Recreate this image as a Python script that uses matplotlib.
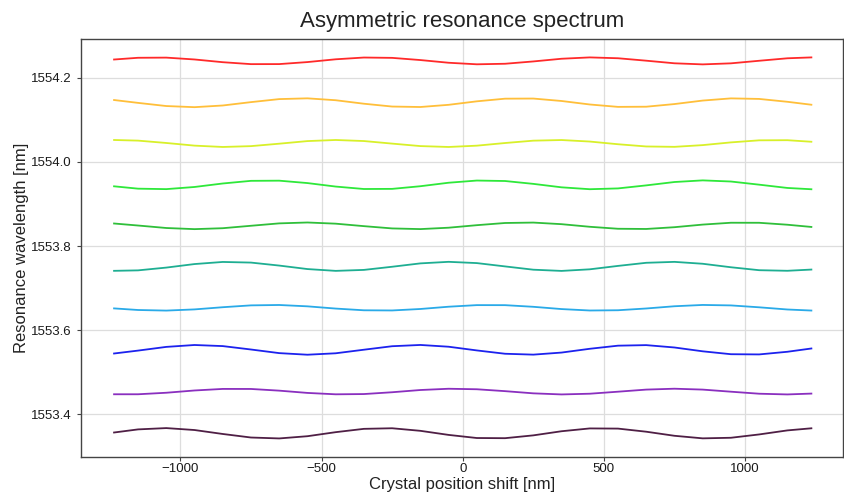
import matplotlib
matplotlib.use("Agg")
import matplotlib.pyplot as plt

plt.rcParams["font.family"] = ["Liberation Sans", "DejaVu Sans"]

# crystal position shift [nm], shared by every trace
shift = [-1235, -1150, -1050, -950, -850, -750, -650, -550, -450, -350, -250,
         -150, -50, 50, 150, 250, 350, 450, 550, 650, 750, 850, 950, 1050,
         1150, 1235]

# resonance wavelength [nm], one list per trace (top to bottom)
res_1 = [1554.2433, 1554.2474, 1554.2478, 1554.2434, 1554.2369, 1554.2323,
         1554.2324, 1554.2372, 1554.2438, 1554.2480, 1554.2472, 1554.2420,
         1554.2356, 1554.2319, 1554.2332, 1554.2387, 1554.2451, 1554.2483,
         1554.2463, 1554.2405, 1554.2343, 1554.2317, 1554.2342, 1554.2403,
         1554.2462, 1554.2483]
res_2 = [1554.1470, 1554.1402, 1554.1327, 1554.1300, 1554.1340, 1554.1420,
         1554.1492, 1554.1510, 1554.1465, 1554.1382, 1554.1315, 1554.1304,
         1554.1356, 1554.1439, 1554.1502, 1554.1505, 1554.1447, 1554.1364,
         1554.1307, 1554.1311, 1554.1374, 1554.1457, 1554.1509, 1554.1496,
         1554.1428, 1554.1358]
res_3 = [1554.0520, 1554.0505, 1554.0449, 1554.0386, 1554.0354, 1554.0374,
         1554.0432, 1554.0494, 1554.0520, 1554.0495, 1554.0434, 1554.0375,
         1554.0354, 1554.0385, 1554.0448, 1554.0504, 1554.0519, 1554.0483,
         1554.0419, 1554.0366, 1554.0357, 1554.0398, 1554.0463, 1554.0512,
         1554.0515, 1554.0478]
res_4 = [1553.9419, 1553.9363, 1553.9352, 1553.9403, 1553.9486, 1553.9549,
         1553.9553, 1553.9496, 1553.9413, 1553.9355, 1553.9358, 1553.9421,
         1553.9504, 1553.9556, 1553.9545, 1553.9477, 1553.9395, 1553.9350,
         1553.9369, 1553.9441, 1553.9521, 1553.9560, 1553.9533, 1553.9458,
         1553.9380, 1553.9349]
res_5 = [1553.8535, 1553.8487, 1553.8428, 1553.8401, 1553.8423, 1553.8481,
         1553.8538, 1553.8559, 1553.8531, 1553.8472, 1553.8418, 1553.8402,
         1553.8435, 1553.8495, 1553.8547, 1553.8557, 1553.8519, 1553.8457,
         1553.8410, 1553.8405, 1553.8447, 1553.8509, 1553.8553, 1553.8552,
         1553.8506, 1553.8453]
res_6 = [1553.7410, 1553.7421, 1553.7487, 1553.7571, 1553.7621, 1553.7606,
         1553.7535, 1553.7452, 1553.7409, 1553.7432, 1553.7507, 1553.7587,
         1553.7624, 1553.7594, 1553.7515, 1553.7437, 1553.7408, 1553.7446,
         1553.7527, 1553.7601, 1553.7623, 1553.7578, 1553.7495, 1553.7425,
         1553.7411, 1553.7440]
res_7 = [1553.6517, 1553.6479, 1553.6465, 1553.6493, 1553.6545, 1553.6589,
         1553.6598, 1553.6566, 1553.6513, 1553.6472, 1553.6468, 1553.6503,
         1553.6557, 1553.6595, 1553.6594, 1553.6555, 1553.6501, 1553.6467,
         1553.6473, 1553.6515, 1553.6568, 1553.6599, 1553.6588, 1553.6543,
         1553.6491, 1553.6466]
res_8 = [1553.5445, 1553.5514, 1553.5602, 1553.5647, 1553.5621, 1553.5540,
         1553.5454, 1553.5416, 1553.5450, 1553.5535, 1553.5618, 1553.5648,
         1553.5606, 1553.5518, 1553.5439, 1553.5418, 1553.5467, 1553.5557,
         1553.5631, 1553.5644, 1553.5588, 1553.5497, 1553.5428, 1553.5423,
         1553.5486, 1553.5564]
res_9 = [1553.4476, 1553.4476, 1553.4512, 1553.4566, 1553.4603, 1553.4602,
         1553.4562, 1553.4508, 1553.4475, 1553.4481, 1553.4524, 1553.4577,
         1553.4607, 1553.4595, 1553.4550, 1553.4498, 1553.4472, 1553.4489,
         1553.4537, 1553.4587, 1553.4608, 1553.4587, 1553.4537, 1553.4489,
         1553.4472, 1553.4492]
res_10 = [1553.3567, 1553.3641, 1553.3672, 1553.3626, 1553.3532, 1553.3448,
          1553.3426, 1553.3479, 1553.3575, 1553.3654, 1553.3668, 1553.3607,
          1553.3510, 1553.3436, 1553.3432, 1553.3499, 1553.3597, 1553.3664,
          1553.3660, 1553.3586, 1553.3489, 1553.3428, 1553.3442, 1553.3521,
          1553.3617, 1553.3667]

traces = [res_1, res_2, res_3, res_4, res_5, res_6, res_7, res_8, res_9, res_10]
colors = ["#ff2a2a", "#ffbf3a", "#d8f02a", "#2ee83a", "#2fbf3a",
          "#1eae92", "#2aaae8", "#1c22ee", "#8a2fbf", "#4f1f45"]

fig = plt.figure(figsize=(8.44, 4.97), dpi=100)
ax = fig.add_axes([0.096, 0.0805, 0.9028, 0.8404])

for ys, c in zip(traces, colors):
    ax.plot(shift, ys, color=c, lw=1.3)

ax.set_xlim(-1352, 1347)
ax.set_ylim(1553.2985, 1554.2913)
ax.set_xticks([-1000, -500, 0, 500, 1000])
ax.set_yticks([1553.4, 1553.6, 1553.8, 1554.0, 1554.2])
ax.grid(True, color="#dddddd", lw=0.9)
ax.set_axisbelow(True)

for s in ax.spines.values():
    s.set_color("#444444")
    s.set_linewidth(1.0)
ax.tick_params(labelsize=9.5, length=3, color="#444444", labelcolor="#1a1a1a")
ax.tick_params(axis="x", pad=1.5)

ax.set_title("Asymmetric resonance spectrum", fontsize=16, pad=9, color="#222222")
ax.set_xlabel("Crystal position shift [nm]", fontsize=12, color="#222222", labelpad=1)
ax.set_ylabel("Resonance wavelength [nm]", fontsize=12, color="#222222", labelpad=1.5)

fig.savefig("out.png", dpi=100)
